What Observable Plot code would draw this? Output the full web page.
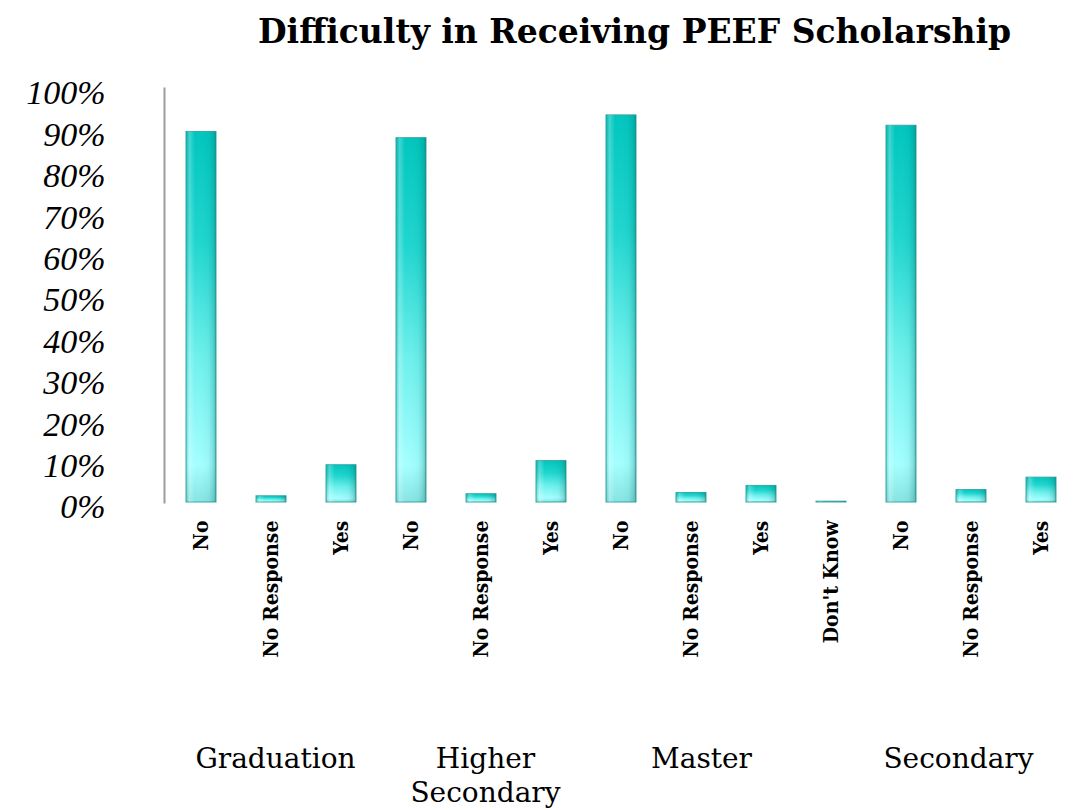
<!DOCTYPE html>
<html>
<head>
<meta charset="utf-8">
<script src="https://cdn.jsdelivr.net/npm/d3@7"></script>
<script src="https://cdn.jsdelivr.net/npm/@observablehq/plot@0.6"></script>
<style>
  body { margin: 0; background: #fff; width: 1092px; height: 810px; overflow: hidden; }
  #title { height: 70px; box-sizing: border-box; padding-left: 258px; line-height: 64px;
           font-family: "DejaVu Serif", serif; font-weight: bold; font-size: 33px; color: #000; white-space: nowrap; }
  #chart svg { display: block; }
  #chart svg [aria-label="x-axis tick label"] text { font-stretch: condensed; }
</style>
</head>
<body>
<div id="title">Difficulty in Receiving PEEF Scholarship</div>
<div id="chart"></div>
<script>
// ---- data ----
const groups     = ["Graduation", "Graduation", "Graduation",
                    "Higher Secondary", "Higher Secondary", "Higher Secondary",
                    "Master", "Master", "Master", "Master",
                    "Secondary", "Secondary", "Secondary"];
const answers    = ["No", "No Response", "Yes",
                    "No", "No Response", "Yes",
                    "No", "No Response", "Yes", "Don't Know",
                    "No", "No Response", "Yes"];
const percents   = [89.5, 1.5, 9.0,
                    88.0, 2.0, 10.0,
                    93.5, 2.3, 4.0, 0.2,
                    91.0, 3.0, 6.0];
const yTicks     = [0, 0.1, 0.2, 0.3, 0.4, 0.5, 0.6, 0.7, 0.8, 0.9, 1.0];
const groupNames = ["Graduation", "Higher\nSecondary", "Master", "Secondary"];
const groupKeys  = ["Graduation|No Response", "Higher Secondary|No Response", "Master|No Response", "Secondary|No Response"];

const data = percents.map((v, i) => ({
  key: groups[i] + "|" + answers[i],
  group: groups[i],
  answer: answers[i],
  value: v / 100
}));
const keys = data.map(d => d.key);
const labels = groupNames.map((t, i) => ({text: t, key: groupKeys[i]}));

const serif = "'DejaVu Serif', serif";
const condensed = "'DejaVu Serif Condensed', 'DejaVu Serif', serif";
const groupText = {x: "key", text: "text", frameAnchor: "bottom", lineAnchor: "top",
                   dy: 242, lineHeight: 1.2, fontFamily: serif, fontSize: 28};

const chart = Plot.plot({
  width: 1092,
  height: 740,
  marginTop: 18,
  marginBottom: 308,
  marginLeft: 164,
  marginRight: 14,
  style: {background: "#fff", color: "#000"},
  x: {domain: keys, paddingInner: 0.57, paddingOuter: 0.285, label: null},
  y: {domain: [0, 1], label: null},
  marks: [
    Plot.axisY({ticks: yTicks, tickFormat: d3.format(".0%"), tickSize: 0, tickPadding: 59, dy: 5,
                fontFamily: "'Liberation Serif', serif", fontStyle: "italic", fontSize: 34, label: null}),
    Plot.axisX({tickSize: 0, tickPadding: 18, tickRotate: -90, tickFormat: k => k.split("|")[1],
                fontFamily: condensed, fontWeight: "bold", fontSize: 21, label: null}),
    Plot.frame({anchor: "left", stroke: "#9c9c9c", strokeWidth: 2}),
    Plot.barY(data, {x: "key", y: "value", fill: "url(#barFill)", stroke: "#3aa7a3", strokeWidth: 1}),
    Plot.barY(data, {x: "key", y: "value", fill: "url(#barShade)"}),
    Plot.text(labels.slice(0, 2), {...groupText, dx: 4}),
    Plot.text(labels.slice(2, 3), {...groupText, dx: 10}),
    Plot.text(labels.slice(3, 4), {...groupText, dx: -13})
  ]
});

const defs = d3.select(chart).insert("defs", ":first-child");
const g1 = defs.append("linearGradient").attr("id", "barFill").attr("x1", 0).attr("y1", 0).attr("x2", 0).attr("y2", 1);
[[0, "#00c6be"], [0.3, "#1fd6cf"], [0.6, "#6cf0ec"], [0.9, "#a4ffff"], [1, "#86e4e2"]]
  .forEach(([o, c]) => g1.append("stop").attr("offset", o).attr("stop-color", c));
const g2 = defs.append("linearGradient").attr("id", "barShade").attr("x1", 0).attr("y1", 0).attr("x2", 1).attr("y2", 0);
[[0, "#007a76", 0.25], [0.12, "#ffffff", 0.25], [0.3, "#ffffff", 0.0], [0.75, "#006a66", 0.05], [0.9, "#006a66", 0.2], [1, "#005a57", 0.4]]
  .forEach(([o, c, a]) => g2.append("stop").attr("offset", o).attr("stop-color", c).attr("stop-opacity", a));

document.getElementById("chart").appendChild(chart);
</script>
</body>
</html>
